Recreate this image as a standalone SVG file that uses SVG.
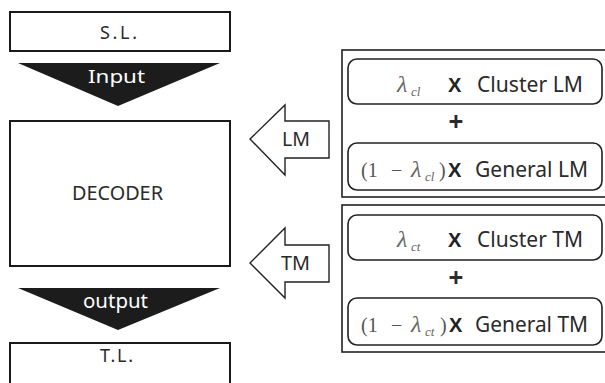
<svg xmlns="http://www.w3.org/2000/svg" width="605" height="383" viewBox="0 0 605 383">
  <style>
    .box { fill: #fff; stroke: #1a1a1a; stroke-width: 2; }
    .rbox { fill: #fff; stroke: #222; stroke-width: 1.6; }
    .frame { fill: #fff; stroke: #222; stroke-width: 1.6; }
    .tri { fill: #1c1c1c; }
    .arrow { fill: #fff; stroke: #222; stroke-width: 1.4; stroke-linejoin: miter; }
    .t { font-family: "Noto Sans", "Open Sans", "Liberation Sans", sans-serif; fill: #2a2a2a; }
    .w { font-family: "Noto Sans", "Open Sans", "Liberation Sans", sans-serif; fill: #fff; }
    .m { font-family: "Liberation Serif", "DejaVu Serif", serif; fill: #666; font-style: italic; }
    .mr { font-family: "Liberation Serif", "DejaVu Serif", serif; fill: #555; }
    .x { font-family: "Liberation Sans", sans-serif; font-weight: bold; fill: #222; }
  </style>
  <rect width="605" height="383" fill="#fff"/>

  <g id="source">
    <rect class="box" x="10" y="12" width="220" height="39"/>
    <text class="t" x="100" y="39" font-size="18" textLength="37" lengthAdjust="spacing">S.L.</text>
  </g>

  <g id="decoder">
    <rect class="box" x="10" y="121" width="220" height="145"/>
    <text class="t" x="72" y="200" font-size="20" textLength="91" lengthAdjust="spacingAndGlyphs">DECODER</text>
  </g>

  <g id="target">
    <rect class="box" x="10" y="343" width="220" height="42"/>
    <text class="t" x="100" y="362" font-size="18" textLength="33" lengthAdjust="spacing">T.L.</text>
  </g>

  <!-- interpolated language model -->
  <g id="lm-mix">
    <rect class="frame" x="342" y="50" width="272" height="147"/>
    <rect class="rbox" x="348" y="59" width="254" height="45" rx="9"/>
    <text class="m" x="397" y="92" font-size="24">λ</text>
    <text class="m" x="411" y="96" font-size="13">cl</text>
    <text class="x" x="448" y="92" font-size="20">X</text>
    <text class="t" x="477" y="92" font-size="21" textLength="106" lengthAdjust="spacingAndGlyphs">Cluster LM</text>
    <text class="t" x="456" y="131" font-size="26" text-anchor="middle" font-weight="bold">+</text>
    <rect class="rbox" x="348" y="143" width="254" height="47" rx="9"/>
    <text class="mr" x="361" y="177" font-size="20">(1</text>
    <text class="mr" x="391" y="177" font-size="20">−</text>
    <text class="m" x="411" y="177" font-size="24">λ</text>
    <text class="m" x="425" y="181" font-size="13">cl</text>
    <text class="mr" x="439" y="177" font-size="20">)</text>
    <text class="x" x="448" y="177" font-size="20">X</text>
    <text class="t" x="475" y="177" font-size="21" textLength="113" lengthAdjust="spacingAndGlyphs">General LM</text>
  </g>

  <!-- interpolated translation model -->
  <g id="tm-mix">
    <rect class="frame" x="342" y="205" width="272" height="147"/>
    <rect class="rbox" x="348" y="215" width="254" height="45" rx="9"/>
    <text class="m" x="397" y="247" font-size="24">λ</text>
    <text class="m" x="411" y="251" font-size="13">ct</text>
    <text class="x" x="448" y="247" font-size="20">X</text>
    <text class="t" x="477" y="247" font-size="21" textLength="106" lengthAdjust="spacingAndGlyphs">Cluster TM</text>
    <text class="t" x="456" y="287" font-size="26" text-anchor="middle" font-weight="bold">+</text>
    <rect class="rbox" x="348" y="298" width="254" height="47" rx="9"/>
    <text class="mr" x="361" y="332" font-size="20">(1</text>
    <text class="mr" x="391" y="332" font-size="20">−</text>
    <text class="m" x="411" y="332" font-size="24">λ</text>
    <text class="m" x="425" y="336" font-size="13">ct</text>
    <text class="mr" x="440" y="332" font-size="20">)</text>
    <text class="x" x="449" y="332" font-size="20">X</text>
    <text class="t" x="475" y="332" font-size="21" textLength="113" lengthAdjust="spacingAndGlyphs">General TM</text>
  </g>

  <g id="connectors">
    <g id="input-arrow">
      <polygon class="tri" points="18,63 220,63 118,106"/>
      <text class="w" x="88" y="83" font-size="18" textLength="57" lengthAdjust="spacingAndGlyphs">Input</text>
    </g>
    <g id="output-arrow">
      <polygon class="tri" points="18,288 220,288 118,330"/>
      <text class="w" x="83" y="308" font-size="19" textLength="65" lengthAdjust="spacingAndGlyphs">output</text>
    </g>
    <g id="lm-arrow">
      <polygon class="arrow" points="250,139 285,105 285,121 329,121 329,158 285,158 285,175"/>
      <text class="t" x="282" y="146" font-size="19" textLength="28" lengthAdjust="spacingAndGlyphs">LM</text>
    </g>
    <g id="tm-arrow">
      <polygon class="arrow" points="250,263 285,228 285,245 329,245 329,282 285,282 285,298"/>
      <text class="t" x="281" y="270" font-size="19" textLength="29" lengthAdjust="spacingAndGlyphs">TM</text>
    </g>
  </g>
</svg>
